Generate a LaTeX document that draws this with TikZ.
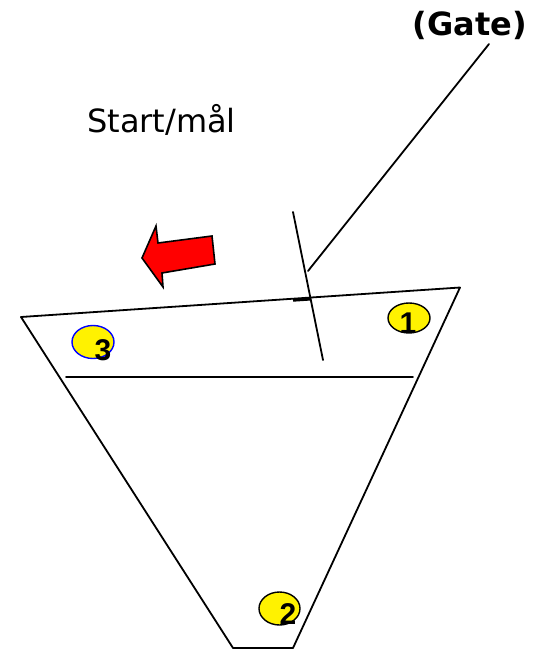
\documentclass[tikz,border=0pt]{standalone}
\usepackage{fontspec}
\setmainfont{DejaVu Sans}
\newfontfamily\numfont{Liberation Sans}
\begin{document}
\begin{tikzpicture}[x=1pt,y=-1pt,
  edge/.style={line width=1.8pt,line cap=round,line join=round},
  ball/.style={draw=black,line width=1.4pt,fill=yellow},
  num/.style={font=\numfont\bfseries\fontsize{30}{30}\selectfont,inner sep=0pt,anchor=base},
  redarrow/.style={draw=black,line width=1.6pt,fill=red,line join=miter}]
\useasboundingbox (0,0) rectangle (537,650);
% track
\coordinate (tl) at (21,317);
\coordinate (tr) at (460,287.5);
\coordinate (br) at (293,648);
\coordinate (bl) at (233,648);
\draw[edge] (tl) -- (tr) -- (br) -- (bl) -- cycle;
\coordinate (il) at (66,377);
\coordinate (ir) at (413,377);
\draw[edge] (il) -- (ir);
% gate
\coordinate (g1) at (293,212);
\coordinate (g2) at (323,360);
\draw[edge] (g1) -- (g2);
\coordinate (gd1) at (293,300.3);
\coordinate (gd2) at (311,299.1);
\draw[line width=2.8pt] (gd1) -- (gd2);
\node[font=\bfseries\fontsize{32}{32}\selectfont,inner sep=0pt,anchor=base] (gate) at (470,36) {(Gate)};
\coordinate (gp) at (308,271);
\coordinate (gt) at (489,44);
\draw[edge] (gp) -- (gt);
% label
\node[font=\fontsize{32}{32}\selectfont,inner sep=0pt,anchor=base west] (start) at (87,132) {Start/mål};
% arrow
\draw[redarrow] (142,258) -- (156,226) -- (158,243) -- (212,236) -- (215,264) -- (162,273) -- (163,287) -- cycle;
% balls
\draw[ball,draw=blue] (93,342) ellipse [x radius=21,y radius=16.5];
\node[num] (n3) at (103,360) {3};
\draw[ball] (409,318) ellipse [x radius=21,y radius=15];
\node[num] (n1) at (408,333) {1};
\draw[ball] (279.5,608.5) ellipse [x radius=20.5,y radius=16.5];
\node[num] (n2) at (288,624) {2};
\end{tikzpicture}
\end{document}
